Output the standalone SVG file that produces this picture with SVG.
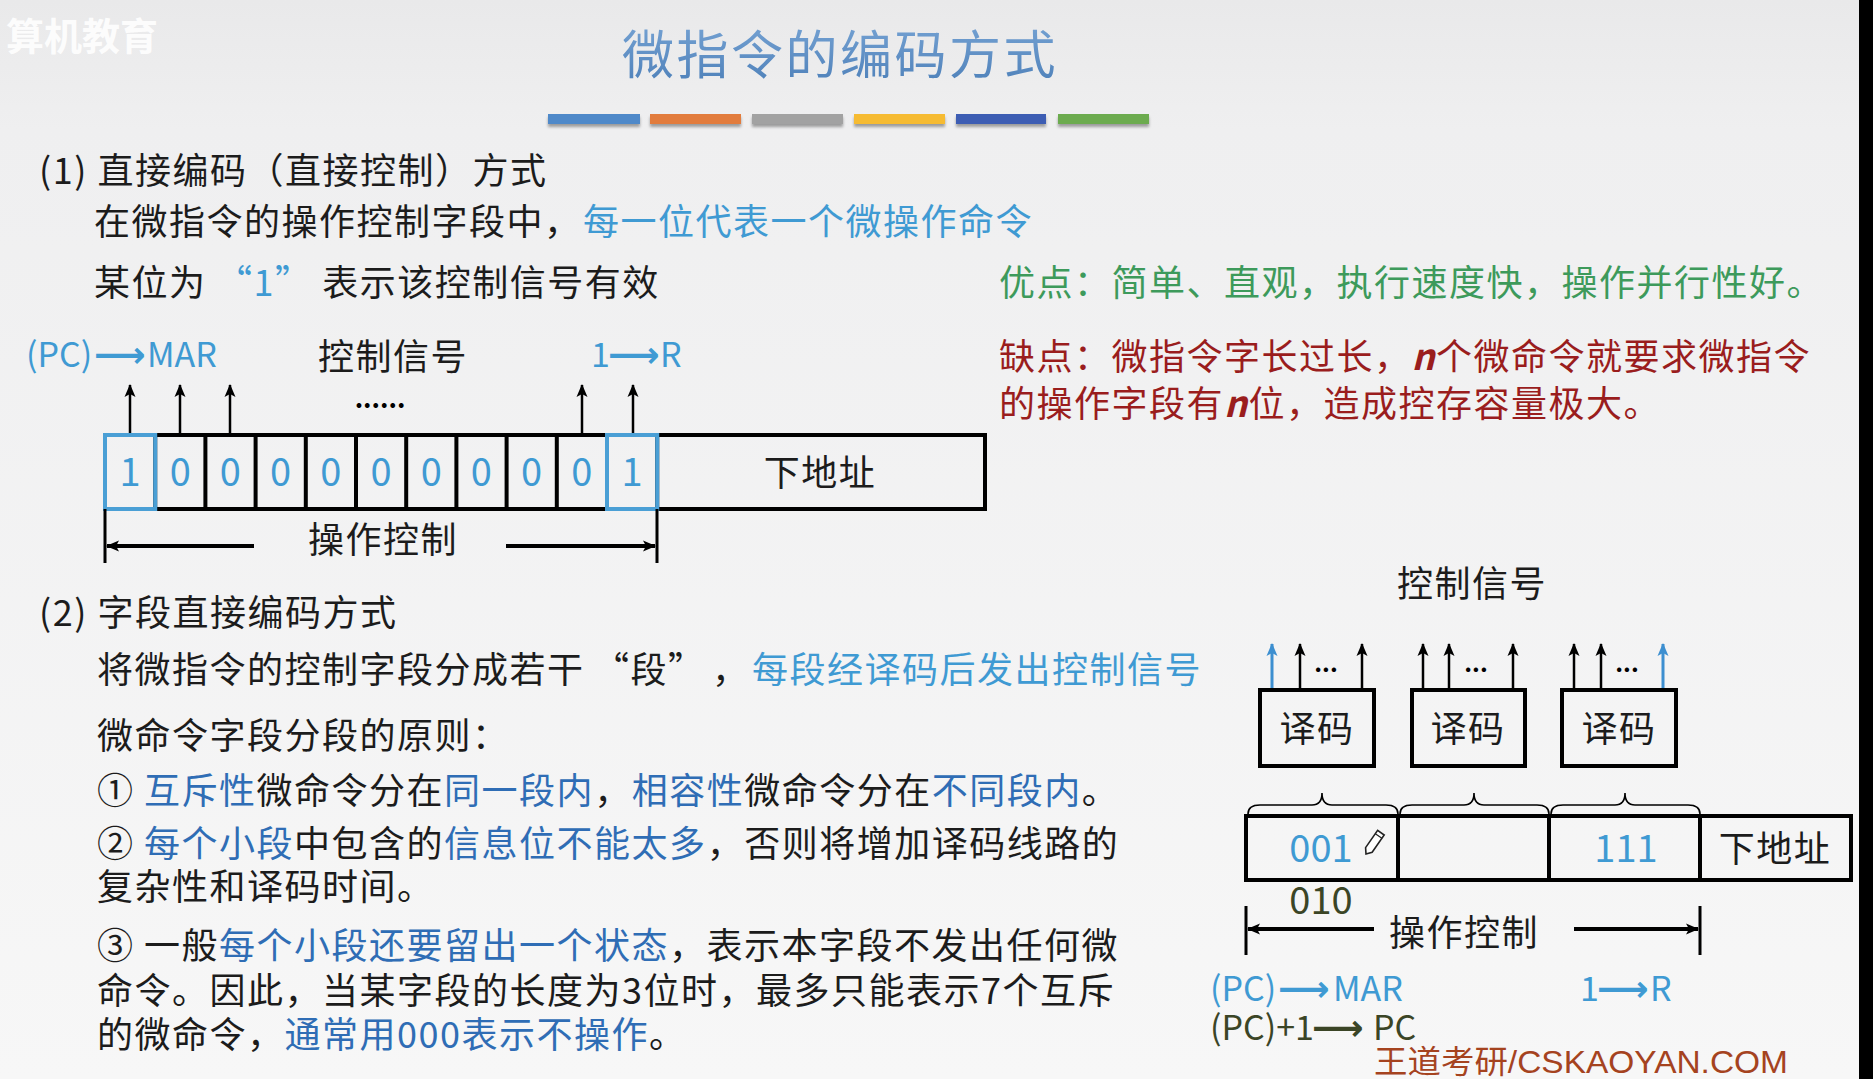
<svg xmlns="http://www.w3.org/2000/svg" width="1873" height="1079" viewBox="0 0 1873 1079">
<defs>
<linearGradient id="bg" x1="0" y1="0" x2="0" y2="1">
<stop offset="0" stop-color="#e9e9ea"/>
<stop offset="0.12" stop-color="#efeff0"/>
<stop offset="1" stop-color="#f7f7f7"/>
</linearGradient>
<linearGradient id="tg" x1="0" y1="0" x2="0" y2="1">
<stop offset="0" stop-color="#7aa6d6"/>
<stop offset="1" stop-color="#4c7fb8"/>
</linearGradient>
<marker id="ak" markerUnits="userSpaceOnUse" markerWidth="14" markerHeight="12" refX="12" refY="6" orient="auto">
<path d="M0,0.5 L13,6 L0,11.5 L3,6 z" fill="#000"/>
</marker>
<marker id="ab" markerUnits="userSpaceOnUse" markerWidth="14" markerHeight="12" refX="12" refY="6" orient="auto">
<path d="M0,0.5 L13,6 L0,11.5 L3,6 z" fill="#3d8fd0"/>
</marker>
<filter id="sh" x="-5%" y="-50%" width="110%" height="250%">
<feGaussianBlur in="SourceAlpha" stdDeviation="1.5"/>
<feOffset dy="3"/>
<feComponentTransfer><feFuncA type="linear" slope="0.35"/></feComponentTransfer>
<feMerge><feMergeNode/><feMergeNode in="SourceGraphic"/></feMerge>
</filter>
</defs>
<style>
text { font-family: "Noto Sans CJK SC", "Liberation Sans", sans-serif; }
.t { font-size: 36px; letter-spacing: 1.5px; fill: #1c1c1c; }
.lb { fill: #3f9ad3; }
.db { fill: #2f6db5; }
.g { fill: #3d9a5b; }
.r { fill: #9a1d1d; }
.lbl { font-size: 34px; fill: #3f9ad3; }
.ol { fill: #3b4526; }
.arw { font-family: "DejaVu Sans", sans-serif; font-weight: bold; }
.dig { font-size: 38px; fill: #3f9ad3; text-anchor: middle; }
.c { text-anchor: middle; }
.box { fill: none; stroke: #000; stroke-width: 4; }
.hl { fill: none; stroke: #4a9fd5; stroke-width: 4; }
.ln { stroke: #000; stroke-width: 3; fill: none; }
.up { stroke: #000; stroke-width: 2.5; fill: none; marker-end: url(#ak); }
.hz { stroke: #000; stroke-width: 4; fill: none; marker-end: url(#ak); }
.upb { stroke: #3d8fd0; stroke-width: 3; fill: none; marker-end: url(#ab); }
.br { stroke: #000; stroke-width: 1.6; fill: none; }
</style>
<rect x="0" y="0" width="1873" height="1079" fill="url(#bg)"/>
<rect x="1859" y="0" width="14" height="1079" fill="#000"/>

<g id="watermark">
<text x="6" y="50" font-size="38" font-weight="bold" fill="#ffffff" fill-opacity="0.9">算机教育</text>
</g>

<g id="title">
<text x="840" y="74" class="c" font-size="52" letter-spacing="2.5" fill="url(#tg)">微指令的编码方式</text>
<g filter="url(#sh)">
<rect x="548" y="114" width="92" height="10" fill="#5089c9"/>
<rect x="650" y="114" width="91" height="10" fill="#e27c3c"/>
<rect x="752" y="114" width="91" height="10" fill="#a2a2a2"/>
<rect x="854" y="114" width="91" height="10" fill="#f6bb33"/>
<rect x="956" y="114" width="90" height="10" fill="#3d5db3"/>
<rect x="1058" y="114" width="91" height="10" fill="#6cab4f"/>
</g>
</g>

<g id="section1-text">
<text x="39" y="184" class="t">(1) 直接编码（直接控制）方式</text>
<text x="94" y="235" class="t">在微指令的操作控制字段中，<tspan x="583" class="lb">每一位代表一个微操作命令</tspan></text>
<text x="94" y="296" class="t">某位为 <tspan class="lb">“1”</tspan> 表示该控制信号有效</text>
<text x="999" y="296" class="t g">优点：简单、直观，执行速度快，操作并行性好。</text>
<text x="999" y="370" class="t r">缺点：微指令字长过长，<tspan font-style="italic" font-weight="bold">n</tspan>个微命令就要求微指令</text>
<text x="999" y="417" class="t r">的操作字段有<tspan font-style="italic" font-weight="bold">n</tspan>位，造成控存容量极大。</text>
</g>

<g id="diagram1">
<text class="lbl" y="367"><tspan x="26">(PC)</tspan><tspan x="94" class="arw" font-size="36">⟶</tspan><tspan x="147">MAR</tspan></text>
<text x="393" y="370" class="t c">控制信号</text>
<text class="lbl" y="367"><tspan x="591">1</tspan><tspan x="608" class="arw" font-size="36">⟶</tspan><tspan x="660">R</tspan></text>
<text x="380" y="408" class="c" font-size="26" font-weight="bold" fill="#000">......</text>
<g id="register1">
<rect x="105" y="435" width="880" height="74" class="box"/>
<path class="box" d="M155.2,435V509M205.4,435V509M255.6,435V509M305.8,435V509M356,435V509M406.2,435V509M456.4,435V509M506.6,435V509M556.8,435V509M607,435V509M657.2,435V509"/>
<rect x="105" y="435" width="50.2" height="74" class="hl"/>
<rect x="607" y="435" width="50.2" height="74" class="hl"/>
<text y="486" class="dig"><tspan x="130">1</tspan><tspan x="180.2">0</tspan><tspan x="230.4">0</tspan><tspan x="280.6">0</tspan><tspan x="330.8">0</tspan><tspan x="381">0</tspan><tspan x="431.2">0</tspan><tspan x="481.4">0</tspan><tspan x="531.6">0</tspan><tspan x="581.8">0</tspan><tspan x="632.1">1</tspan></text>
<text x="820" y="486" class="t c">下地址</text>
</g>
<text x="383" y="553" class="t c">操作控制</text>
</g>

<g id="connectors">
<line x1="130" y1="433" x2="130" y2="385" class="up"/>
<line x1="180" y1="433" x2="180" y2="385" class="up"/>
<line x1="230" y1="433" x2="230" y2="385" class="up"/>
<line x1="582" y1="433" x2="582" y2="385" class="up"/>
<line x1="633" y1="433" x2="633" y2="385" class="up"/>
<path class="ln" d="M105,509V563M657,509V563"/>
<line x1="254" y1="546" x2="107" y2="546" class="hz"/>
<line x1="506" y1="546" x2="655" y2="546" class="hz"/>

<line x1="1272" y1="690" x2="1272" y2="644" class="upb"/>
<line x1="1300" y1="690" x2="1300" y2="644" class="up" stroke-width="3"/>
<line x1="1362" y1="690" x2="1362" y2="644" class="up" stroke-width="3"/>
<line x1="1423" y1="690" x2="1423" y2="644" class="up" stroke-width="3"/>
<line x1="1449" y1="690" x2="1449" y2="644" class="up" stroke-width="3"/>
<line x1="1513" y1="690" x2="1513" y2="644" class="up" stroke-width="3"/>
<line x1="1574" y1="690" x2="1574" y2="644" class="up" stroke-width="3"/>
<line x1="1601" y1="690" x2="1601" y2="644" class="up" stroke-width="3"/>
<line x1="1663" y1="690" x2="1663" y2="644" class="upb"/>
<path class="ln" d="M1246,906V955M1700,906V955"/>
<line x1="1374" y1="929" x2="1248" y2="929" class="hz"/>
<line x1="1574" y1="929" x2="1698" y2="929" class="hz"/>
</g>

<g id="section2-text">
<text x="39" y="626" class="t">(2) 字段直接编码方式</text>
<text x="97" y="683" class="t">将微指令的控制字段分成若干 <tspan x="593">“段”</tspan><tspan x="712">，</tspan><tspan x="752" class="lb">每段经译码后发出控制信号</tspan></text>
<text x="97" y="749" class="t">微命令字段分段的原则：</text>
<text x="97" y="804" class="t">① <tspan class="db">互斥性</tspan>微命令分在<tspan class="db">同一段内</tspan>，<tspan class="db">相容性</tspan>微命令分在<tspan class="db">不同段内</tspan>。</text>
<text x="97" y="857" class="t">② <tspan class="db">每个小段</tspan>中包含的<tspan class="db">信息位不能太多</tspan>，否则将增加译码线路的</text>
<text x="97" y="900" class="t">复杂性和译码时间。</text>
<text x="97" y="959" class="t">③ 一般<tspan class="db">每个小段还要留出一个状态</tspan>，表示本字段不发出任何微</text>
<text x="97" y="1004" class="t">命令。因此，当某字段的长度为3位时，最多只能表示7个互斥</text>
<text x="97" y="1048" class="t">的微命令，<tspan class="db">通常用000表示不操作</tspan>。</text>
</g>

<g id="diagram2">
<text x="1472" y="597" class="t c">控制信号</text>
<text y="672" class="c" font-size="24" font-weight="bold" fill="#000"><tspan x="1326">...</tspan><tspan x="1476">...</tspan><tspan x="1627">...</tspan></text>
<g id="decoder1"><rect x="1260" y="690" width="114" height="76" class="box"/><text x="1317" y="742" class="t c">译码</text></g>
<g id="decoder2"><rect x="1412" y="690" width="113" height="76" class="box"/><text x="1468" y="742" class="t c">译码</text></g>
<g id="decoder3"><rect x="1562" y="690" width="114" height="76" class="box"/><text x="1619" y="742" class="t c">译码</text></g>
<g id="braces">
<path class="br" d="M1248,814 Q1248,805 1260,805 L1312,805 Q1322,805 1322,793 Q1322,805 1332,805 L1386,805 Q1398,805 1398,814"/>
<path class="br" d="M1400,814 Q1400,805 1412,805 L1464,805 Q1474,805 1474,793 Q1474,805 1484,805 L1537,805 Q1549,805 1549,814"/>
<path class="br" d="M1551,814 Q1551,805 1563,805 L1615,805 Q1625,805 1625,793 Q1625,805 1635,805 L1688,805 Q1700,805 1700,814"/>
</g>
<g id="register2">
<rect x="1246" y="816" width="605" height="64" class="box" stroke-width="4.5"/>
<path class="box" stroke-width="4.5" d="M1398,816V880M1549,816V880M1700,816V880"/>
<text x="1321" y="862" class="dig">001</text>
<text x="1626" y="862" class="dig">111</text>
<text x="1775" y="862" class="t c">下地址</text>
<g id="pencil" transform="translate(1366,854) rotate(-55)">
<path d="M0,0 L5,-4 L26,-4 L26,4 L5,4 z" fill="#ffffff" stroke="#222" stroke-width="1.6"/>
<path d="M22,-4 V4" stroke="#222" stroke-width="1.2"/>
</g>
</g>
<text x="1321" y="914" class="c ol" font-size="38">010</text>
<text x="1464" y="946" class="t c">操作控制</text>
<text class="lbl" y="1001"><tspan x="1210">(PC)</tspan><tspan x="1278" class="arw" font-size="36">⟶</tspan><tspan x="1333">MAR</tspan></text>
<text class="lbl" y="1001"><tspan x="1580">1</tspan><tspan x="1597" class="arw" font-size="36">⟶</tspan><tspan x="1650">R</tspan></text>
<text class="lbl ol" y="1040"><tspan x="1210">(PC)+1</tspan><tspan x="1312" class="arw" font-size="36">⟶</tspan><tspan x="1373">PC</tspan></text>
<text x="1374" y="1073" font-size="32" fill="#a5431f" textLength="414" lengthAdjust="spacingAndGlyphs" style="font-family:'Liberation Sans','Noto Sans CJK SC',sans-serif">王道考研/CSKAOYAN.COM</text>
</g>
</svg>
